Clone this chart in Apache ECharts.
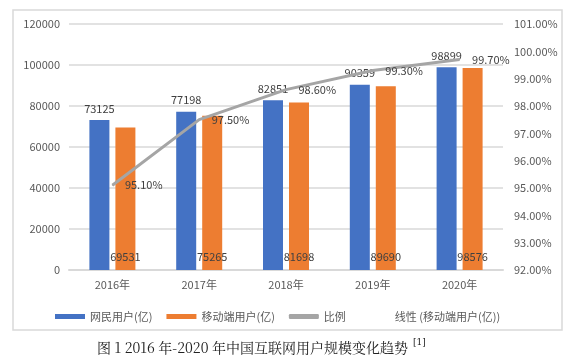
<!DOCTYPE html>
<html><head><meta charset="utf-8">
<script src="https://cdn.jsdelivr.net/npm/echarts@6/dist/echarts.min.js"></script>
<style>html,body{margin:0;padding:0;background:#fff}#c{width:580px;height:361px}</style>
</head><body><div id="c"></div>
<script>
var categories = ['2016年','2017年','2018年','2019年','2020年'];
var netUsers = [73125, 77198, 82851, 90359, 98899];
var mobileUsers = [69531, 75265, 81698, 89690, 98576];
var ratio = [95.10, 97.50, 98.60, 99.30, 99.70];
var seriesNames = ['网民用户(亿)', '移动端用户(亿)', '比例', '线性 (移动端用户(亿))'];
var caption = '图 1 2016 年-2020 年中国互联网用户规模变化趋势';

var font = '"Noto Sans CJK SC", "Liberation Sans", sans-serif';
var chart = echarts.init(document.getElementById('c'));
chart.setOption({
  animation: false,
  textStyle: { fontFamily: font },
  grid: { left: 69, right: 77, top: 24, bottom: 91 },
  legend: {
    left: 50, top: 306, itemWidth: 30, itemHeight: 5, itemGap: 14,
    textStyle: { color: '#595959', fontSize: 11, fontFamily: font },
    data: [
      { name: seriesNames[0], icon: 'rect' },
      { name: seriesNames[1], icon: 'rect' },
      { name: seriesNames[2], icon: 'roundRect' },
      { name: seriesNames[3], icon: 'rect', itemStyle: { color: 'rgba(0,0,0,0)' } }
    ]
  },
  xAxis: {
    type: 'category', data: categories,
    axisLine: { lineStyle: { color: '#d9d9d9', width: 2 } },
    axisTick: { show: false },
    axisLabel: { color: '#595959', fontSize: 11, margin: 9 }
  },
  yAxis: [
    { type: 'value', min: 0, max: 120000, interval: 20000,
      axisLine: { show: false }, axisTick: { show: false },
      axisLabel: { color: '#595959', fontSize: 11, margin: 9,
        formatter: function (v) { return String(v); } },
      splitLine: { lineStyle: { color: '#d9d9d9', width: 1.5 } } },
    { type: 'value', min: 92, max: 101, interval: 1,
      axisLine: { show: false }, axisTick: { show: false },
      axisLabel: { color: '#595959', fontSize: 11, margin: 11,
        formatter: function (v) { return v.toFixed(2) + '%'; } },
      splitLine: { show: false } }
  ],
  series: [
    { name: seriesNames[0], type: 'bar', data: netUsers, barWidth: 20, barGap: '30%',
      itemStyle: { color: '#4472c4' },
      label: { show: true, position: 'top', distance: 6, color: '#404040', fontSize: 11 } },
    { name: seriesNames[1], type: 'bar', data: mobileUsers, barWidth: 20,
      itemStyle: { color: '#ed7d31' },
      label: { show: true, position: 'insideBottom', distance: 8, color: '#404040', fontSize: 11 } },
    { name: seriesNames[2], type: 'line', yAxisIndex: 1, data: ratio, showSymbol: true,
      symbol: 'circle', symbolSize: 1,
      lineStyle: { color: '#a5a5a5', width: 3 }, itemStyle: { color: '#a5a5a5' },
      label: { show: true, position: 'right', distance: 12, color: '#404040', fontSize: 11,
        formatter: function (p) { return p.value.toFixed(2) + '%'; } } },
    { name: seriesNames[3], type: 'line', data: [], itemStyle: { color: 'rgba(0,0,0,0)' } }
  ],
  graphic: [
    { type: 'rect', shape: { x: 13, y: 10, width: 549, height: 320 },
      style: { fill: 'none', stroke: '#d9d9d9', lineWidth: 1.5 }, silent: true },
    { type: 'text', left: 97, top: 341,
      style: { text: caption, font: '14px "Noto Serif CJK SC", "DejaVu Serif", serif', fill: '#222' } },
    { type: 'text', left: 413, top: 338,
      style: { text: '[1]', font: '9px "DejaVu Serif", serif', fill: '#222' } }
  ]
});
</script></body></html>
